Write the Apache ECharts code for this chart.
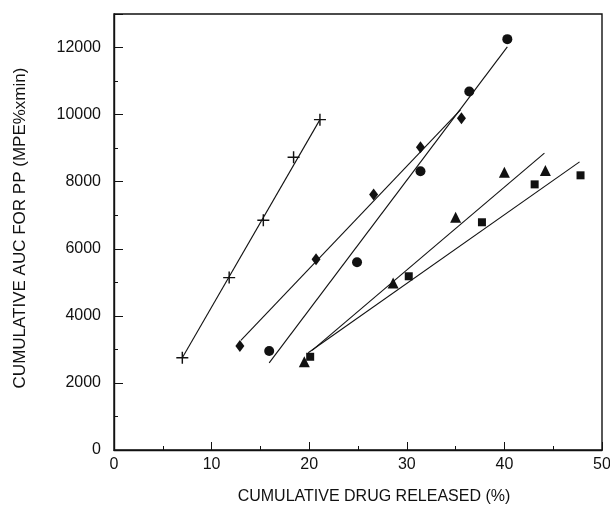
<!DOCTYPE html>
<html>
<head>
<meta charset="utf-8">
<script src="https://cdn.jsdelivr.net/npm/echarts@6/dist/echarts.min.js"></script>
<style>
html,body{margin:0;padding:0;background:#fff;}
#c{width:610px;height:515px;}
</style>
</head>
<body>
<div id="c"></div>
<script>
// Data
var plusX = [7.0, 11.8, 15.3, 18.4, 21.1];
var plusY = [2750, 5140, 6850, 8730, 9850];
var diamondX = [12.9, 20.7, 26.6, 31.4, 35.6];
var diamondY = [3100, 5690, 7620, 9030, 9890];
var circleX = [15.9, 24.9, 31.4, 36.4, 40.3];
var circleY = [2950, 5600, 8310, 10690, 12250];
var triangleX = [19.5, 28.6, 35.0, 40.0, 44.2];
var triangleY = [2630, 4980, 6940, 8280, 8330];
var squareX = [20.1, 30.2, 37.7, 43.1, 47.8];
var squareY = [2780, 5180, 6790, 7920, 8190];

// Fitted line end points as drawn in the picture
var plusLineX = [7.0, 21.1];
var plusLineY = [2750, 9850];
var diamondLineX = [13.0, 35.5];
var diamondLineY = [3270, 10140];
var circleLineX = [15.9, 40.3];
var circleLineY = [2600, 12020];
var triangleLineX = [20.3, 44.1];
var triangleLineY = [2970, 8850];
var squareLineX = [19.9, 47.7];
var squareLineY = [2900, 8590];

var xTicks = [0, 10, 20, 30, 40, 50];
var yTicks = [0, 2000, 4000, 6000, 8000, 10000, 12000];

var xTitle = 'CUMULATIVE DRUG RELEASED (%)';
var yTitle = 'CUMULATIVE AUC FOR PP (MPE%xmin)';

function pairs(xs, ys) {
  return xs.map(function (x, i) { return [x, ys[i]]; });
}

var FONT = '"Liberation Sans", Arial, Helvetica, sans-serif';
var INK = '#111';
var plusPath = 'path://M4.4,0H5.6V4.4H10V5.6H5.6V10H4.4V5.6H0V4.4H4.4Z';

function scatter(name, xs, ys, symbol, size) {
  return {
    name: name, type: 'scatter', data: pairs(xs, ys),
    symbol: symbol, symbolSize: size,
    itemStyle: { color: INK, opacity: 1 },
    z: 5, silent: true
  };
}
function fit(name, xs, ys) {
  return {
    name: name, type: 'line', data: pairs(xs, ys),
    symbol: 'none', lineStyle: { color: INK, width: 1.1 },
    z: 3, silent: true, animation: false
  };
}

var chart = echarts.init(document.getElementById('c'), null, { renderer: 'canvas' });
chart.setOption({
  animation: false,
  backgroundColor: '#fff',
  grid: {
    left: 114, top: 14, width: 488, height: 436,
    outerBoundsMode: 'none', containLabel: false,
    show: true, borderColor: INK, borderWidth: 1.4, backgroundColor: 'transparent'
  },
  xAxis: {
    type: 'value', min: xTicks[0], max: xTicks[xTicks.length - 1], interval: 10,
    axisLine: { show: true, onZero: false, lineStyle: { color: INK, width: 1.4 } },
    axisTick: { show: true, inside: true, length: 8, lineStyle: { color: INK, width: 1 } },
    minorTick: { show: true, splitNumber: 2, length: 4, lineStyle: { color: INK, width: 1 } },
    splitLine: { show: false },
    axisLabel: { color: INK, fontFamily: FONT, fontSize: 16, margin: 7 },
    name: xTitle, nameLocation: 'middle', nameGap: 39,
    nameTextStyle: { color: INK, fontFamily: FONT, fontSize: 16, padding: [0, 0, 0, 32] }
  },
  yAxis: {
    type: 'value', min: 0, max: 13000, interval: 2000,
    axisLine: { show: true, onZero: false, lineStyle: { color: INK, width: 1.4 } },
    axisTick: { show: true, inside: true, length: 9, lineStyle: { color: INK, width: 1 } },
    minorTick: { show: true, splitNumber: 2, length: 4, lineStyle: { color: INK, width: 1 } },
    splitLine: { show: false },
    axisLabel: {
      color: INK, fontFamily: FONT, fontSize: 16, margin: 13, showMaxLabel: false,
      formatter: function (v) { return yTicks.indexOf(v) >= 0 ? String(v) : ''; }
    },
    name: yTitle, nameLocation: 'middle', nameGap: 85, nameRotate: 90,
    nameTextStyle: { color: INK, fontFamily: FONT, fontSize: 17, padding: [0, 0, 0, 8] }
  },
  series: [
    fit('plus fit', plusLineX, plusLineY),
    fit('diamond fit', diamondLineX, diamondLineY),
    fit('circle fit', circleLineX, circleLineY),
    fit('triangle fit', triangleLineX, triangleLineY),
    fit('square fit', squareLineX, squareLineY),
    scatter('plus', plusX, plusY, plusPath, 12),
    scatter('diamond', diamondX, diamondY, 'diamond', [9, 12]),
    scatter('circle', circleX, circleY, 'circle', 10),
    scatter('triangle', triangleX, triangleY, 'triangle', 11),
    scatter('square', squareX, squareY, 'rect', 8)
  ]
});
</script>
</body>
</html>
